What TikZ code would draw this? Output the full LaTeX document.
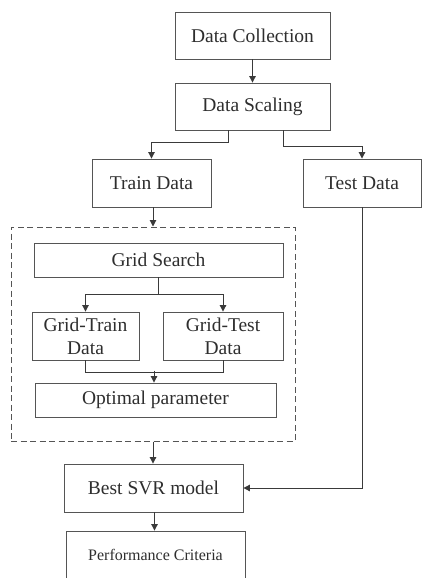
\documentclass[tikz,border=0pt]{standalone}
\usepackage{fontspec}
\setmainfont{Liberation Serif}
\usetikzlibrary{arrows.meta}
\definecolor{edge}{HTML}{3A3A3A}
\definecolor{boxline}{HTML}{555555}
\definecolor{ink}{HTML}{2E2E2E}
\tikzset{
  stepbox/.style={draw=boxline, line width=0.9pt, inner sep=0pt, align=center,
    text=ink, font=\fontsize{19.5}{21}\selectfont},
  arr/.style={draw=edge, line width=1pt, -{Triangle[length=6.5pt,width=6.5pt]}},
  link/.style={draw=edge, line width=1pt},
  frame/.style={draw=boxline, line width=1pt, dash pattern=on 6pt off 3.5pt, inner sep=0pt}
}
\begin{document}
\begin{tikzpicture}[x=1pt,y=-1pt]
\useasboundingbox (0,0) rectangle (422,578);
\begin{scope}
\clip (0,0) rectangle (422,578);
% main column
\node[stepbox, minimum width=155pt, minimum height=47pt] (dc) at (252.5,35.5) {Data Collection};
\node[stepbox, minimum width=155pt, minimum height=47pt] (ds) at (252.5,106.5) {Data Scaling};
\node[stepbox, minimum width=119pt, minimum height=48pt] (train) at (151.5,183) {Train Data};
\node[stepbox, minimum width=118pt, minimum height=48pt] (test) at (362,183) {Test Data};
% parameter search block
\node[frame, minimum width=284pt, minimum height=214pt] (box) at (153,334) {};
\node[stepbox, minimum width=249pt, minimum height=34pt] (gs) at (158.5,260) {Grid Search};
\node[stepbox, minimum width=107pt, minimum height=48pt] (gtrain) at (85.5,336) {Grid-Train\\[2pt]Data};
\node[stepbox, minimum width=120pt, minimum height=48pt] (gtest) at (223,336) {Grid-Test\\[2pt]Data};
\node[stepbox, minimum width=241pt, minimum height=34pt] (opt) at (155.5,400) {Optimal parameter};
% model and evaluation
\node[stepbox, minimum width=179pt, minimum height=48pt] (best) at (153.5,488) {Best SVR model};
\node[stepbox, minimum width=179pt, minimum height=48pt, font=\fontsize{16}{18}\selectfont] (perf) at (155.5,555) {Performance Criteria};
% connectors
\draw[arr] (dc.south) -- (ds.north);
\draw[arr] ([xshift=-24.5pt]ds.south) -- ++(0,12) -| (train.north);
\draw[arr] ([xshift=30.5pt]ds.south) -- ++(0,16) -| (test.north);
\draw[arr] ([xshift=1.5pt]train.south) -- ([xshift=1.5pt]train.south |- box.north);
\draw[link] (gs.south) -- ++(0,17) coordinate (split);
\draw[arr] (split) -| (gtrain.north);
\draw[arr] (split) -| (gtest.north);
\draw[link] (gtrain.south) -- ++(0,12) -| (gtest.south);
\draw[arr] ([xshift=-1.5pt,yshift=12pt]opt.north) -- ([xshift=-1.5pt]opt.north);
\draw[arr] (box.south) -- (box.south |- best.north);
\draw[arr] (test.south) |- (best.east);
\draw[arr] ([xshift=1pt]best.south) -- ([xshift=1pt]best.south |- perf.north);
\end{scope}
\end{tikzpicture}
\end{document}
